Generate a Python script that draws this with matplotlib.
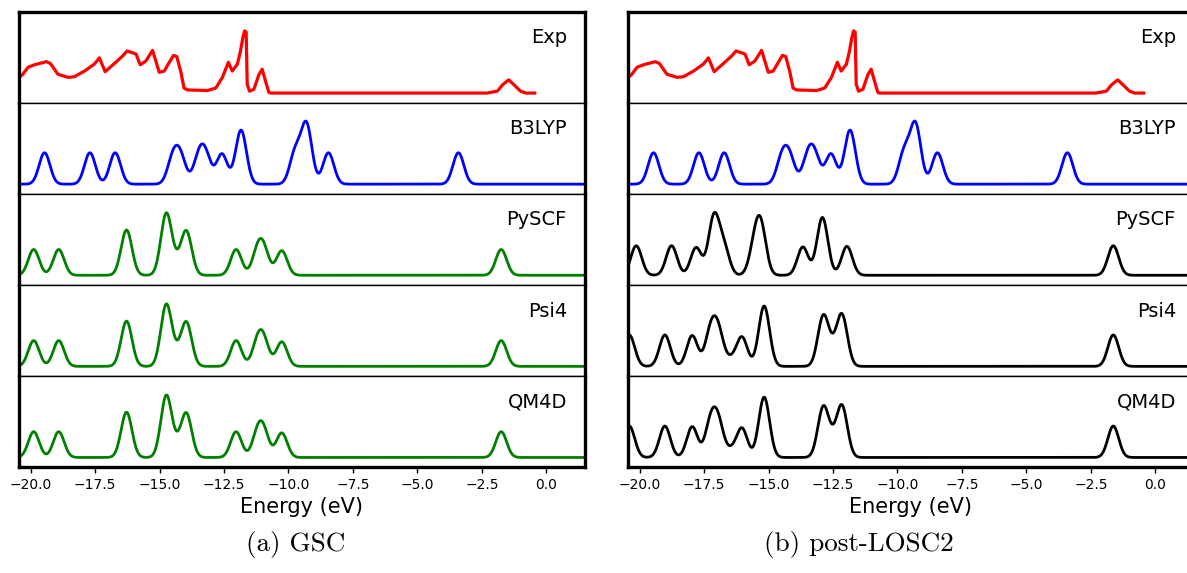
import numpy as np
import matplotlib
matplotlib.use("Agg")
import matplotlib.pyplot as plt

# ---- data (energies in eV, heights normalised) ----
exp_e = [-20.42, -20.32, -20.10, -19.85, -19.39, -19.23, -18.94, -18.55, -18.30,
         -17.91, -17.53, -17.33, -17.11, -16.75, -16.43, -16.26, -16.04, -15.91,
         -15.75, -15.53, -15.27, -15.01, -14.82, -14.46, -14.33, -14.17, -14.05,
         -13.92, -13.14, -12.82, -12.56, -12.33, -12.18, -11.98, -11.86, -11.77,
         -11.70, -11.64, -11.60, -11.51, -11.34, -11.15, -11.02, -10.89, -10.76,
         -10.70, -2.30, -1.90, -1.70, -1.46, -1.25, -1.00, -0.80, -0.45]
exp_i = [0.26, 0.29, 0.41, 0.45, 0.50, 0.47, 0.30, 0.25, 0.26,
         0.35, 0.46, 0.56, 0.34, 0.47, 0.59, 0.67, 0.64, 0.62,
         0.45, 0.51, 0.68, 0.33, 0.35, 0.60, 0.58, 0.33, 0.08,
         0.05, 0.04, 0.08, 0.25, 0.49, 0.35, 0.46, 0.67, 0.88,
         0.99, 0.97, 0.14, 0.03, 0.06, 0.29, 0.38, 0.19, 0.01,
         0.00, 0.00, 0.03, 0.13, 0.21, 0.13, 0.03, 0.00, 0.00]

# peak centres / heights for the simulated spectra
b3lyp_e = [-19.46, -17.70, -16.72, -14.48, -14.18, -13.48, -13.20, -12.58,
           -11.84, -9.74, -9.30, -8.45, -3.41]
b3lyp_h = [0.50, 0.50, 0.50, 0.40, 0.40, 0.40, 0.40, 0.48,
           0.86, 0.50, 0.94, 0.50, 0.50]

gsc_e = [-19.88, -18.91, -16.28, -14.74, -14.35, -13.96, -12.03, -11.20,
         -10.95, -10.26, -1.75]
gsc_h = [0.41, 0.41, 0.72, 0.97, 0.13, 0.69, 0.41, 0.35,
         0.35, 0.39, 0.41]

losc_pyscf_e = [-20.13, -18.76, -17.81, -17.12, -16.73, -15.55, -15.30,
                -13.67, -12.91, -11.96, -1.63]
losc_pyscf_h = [0.47, 0.47, 0.44, 0.91, 0.43, 0.38, 0.73,
                0.45, 0.92, 0.46, 0.47]

losc_psi4_e = [-20.40, -19.02, -17.96, -17.25, -16.95, -16.45, -16.03, -15.17,
               -12.88, -12.52, -12.15, -1.63]
losc_psi4_h = [0.50, 0.50, 0.49, 0.52, 0.52, 0.10, 0.46, 0.96,
               0.78, 0.18, 0.80, 0.50]

labels = ["Exp", "B3LYP", "PySCF", "Psi4", "QM4D"]
ticks = [-20.0, -17.5, -15.0, -12.5, -10.0, -7.5, -5.0, -2.5, 0.0]

SIGMA = 0.21
grid = np.linspace(-20.8, 1.8, 3000)


def broaden(centers, heights):
    d = grid[:, None] - np.asarray(centers)[None, :]
    return (np.asarray(heights) * np.exp(-d ** 2 / (2 * SIGMA ** 2))).sum(axis=1)


panels = [
    {"rows": [(exp_e, exp_i, "red"),
              (b3lyp_e, b3lyp_h, "blue"),
              (gsc_e, gsc_h, "green"),
              (gsc_e, gsc_h, "green"),
              (gsc_e, gsc_h, "green")],
     "left": 19, "caption": "(a) GSC", "cap_x": 296},
    {"rows": [(exp_e, exp_i, "red"),
              (b3lyp_e, b3lyp_h, "blue"),
              (losc_pyscf_e, losc_pyscf_h, "black"),
              (losc_psi4_e, losc_psi4_h, "black"),
              (losc_psi4_e, losc_psi4_h, "black")],
     "left": 628, "caption": "(b) post-LOSC2", "cap_x": 859},
]

W, H = 1187, 573
fig = plt.figure(figsize=(W / 100, H / 100), dpi=100)

top_px, row_px, width_px = 11.7, 91.1, 566

for panel in panels:
    for i, (e, y, color) in enumerate(panel["rows"]):
        ax = fig.add_axes([panel["left"] / W, 1 - (top_px + (i + 1) * row_px) / H,
                           width_px / W, row_px / H])
        if i == 0:
            ax.plot(e, y, color=color, lw=2.3, solid_joinstyle="round")
        else:
            ax.plot(grid, broaden(e, y), color=color, lw=2.0)
        ax.set_xlim(-20.45, 1.5)
        ax.set_ylim(-0.155, 1.295)
        ax.set_yticks([])
        ax.text(0.968, 0.714, labels[i], transform=ax.transAxes,
                ha="right", va="center", fontsize=14)
        for side in ("left", "right"):
            ax.spines[side].set_linewidth(2.4)
        ax.spines["top"].set_linewidth(2.4 if i == 0 else 1.0)
        ax.spines["bottom"].set_linewidth(2.4 if i == 4 else 1.0)
        if i == 4:
            ax.set_xticks(ticks)
            ax.set_xticklabels([f"{t:.1f}".replace("-", "\u2212") for t in ticks])
            ax.tick_params(axis="x", labelsize=10, length=4, width=1)
            ax.set_xlabel("Energy (eV)", fontsize=15)
        else:
            ax.set_xticks([])
    fig.text(panel["cap_x"] / W, 1 - 545 / H, panel["caption"],
             family="cmr10", fontsize=19.5, ha="center", va="center")

fig.savefig("out.png", dpi=100)
